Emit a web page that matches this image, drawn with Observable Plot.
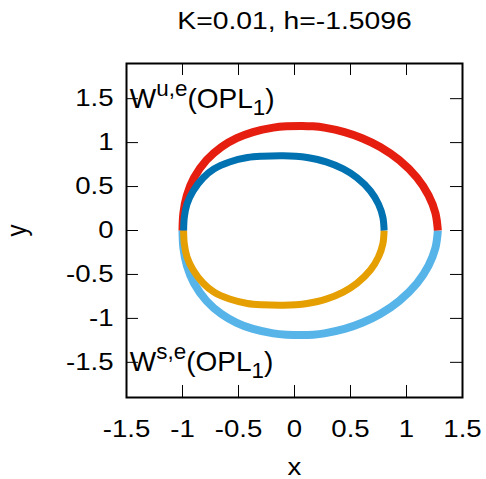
<!DOCTYPE html>
<html>
<head>
<meta charset="utf-8">
<script src="https://cdn.jsdelivr.net/npm/d3@7"></script>
<script src="https://cdn.jsdelivr.net/npm/@observablehq/plot@0.6"></script>
<style>
  html, body { margin: 0; padding: 0; background: #fff; }
  svg { overflow: visible; }
</style>
</head>
<body>
<div id="chart"></div>
<script>
// ---- text ----
const titleText = "K=0.01, h=-1.5096";
const xLabel = "x";
const yLabel = "y";

// ---- ticks ----
const xTicks = [-1.5, -1, -0.5, 0, 0.5, 1, 1.5];
const xTickLabels = ["-1.5", "-1", "-0.5", "0", "0.5", "1", "1.5"];
const yTicks = [-1.5, -1, -0.5, 0, 0.5, 1, 1.5];
const yTickLabels = ["-1.5", "-1", "-0.5", "0", "0.5", "1", "1.5"];

// ---- curve annotations: W^{sup}(OPL_sub) ----
const annX = [-1.47, -1.47];
const annY = [1.5, -1.5];
const annBase = ["W", "W"];
const annSup = ["u,e", "s,e"];
const annMid = ["(OPL", "(OPL"];
const annSub = ["1", "1"];
const annEnd = [")", ")"];

// ---- series ----
// W^{u,e}, outer branch (upper half, red)
const wuOuterX = [-1.00, -0.992, -0.961, -0.897, -0.786, -0.652, -0.516, -0.371, -0.189, -0.072, 0.07, 0.165, 0.267, 0.447, 0.604, 0.765, 0.936, 1.094, 1.197, 1.258, 1.28];
const wuOuterY = [0.00, 0.20, 0.40, 0.60, 0.80, 0.95, 1.05, 1.12, 1.17, 1.185, 1.19, 1.185, 1.17, 1.12, 1.05, 0.95, 0.80, 0.60, 0.40, 0.20, 0.00];
// W^{u,e}, inner branch (upper half, dark blue)
const wuInnerX = [-0.99, -0.984, -0.960, -0.905, -0.815, -0.72, -0.58, -0.42, -0.29, -0.10, 0.011, 0.113, 0.282, 0.435, 0.558, 0.678, 0.75, 0.789, 0.80];
const wuInnerY = [0.00, 0.15, 0.30, 0.45, 0.60, 0.70, 0.78, 0.83, 0.845, 0.85, 0.845, 0.83, 0.78, 0.70, 0.60, 0.45, 0.30, 0.15, 0.00];
// W^{s,e}, outer branch (lower half, light blue)
const wsOuterX = [-1.00, -0.992, -0.961, -0.897, -0.786, -0.652, -0.516, -0.371, -0.189, -0.072, 0.07, 0.165, 0.267, 0.447, 0.604, 0.765, 0.936, 1.094, 1.197, 1.258, 1.28];
const wsOuterY = [0.00, -0.20, -0.40, -0.60, -0.80, -0.95, -1.05, -1.12, -1.17, -1.185, -1.19, -1.185, -1.17, -1.12, -1.05, -0.95, -0.80, -0.60, -0.40, -0.20, 0.00];
// W^{s,e}, inner branch (lower half, orange)
const wsInnerX = [-0.99, -0.984, -0.960, -0.905, -0.815, -0.72, -0.58, -0.42, -0.29, -0.10, 0.011, 0.113, 0.282, 0.435, 0.558, 0.678, 0.75, 0.789, 0.80];
const wsInnerY = [0.00, -0.15, -0.30, -0.45, -0.60, -0.70, -0.78, -0.83, -0.845, -0.85, -0.845, -0.83, -0.78, -0.70, -0.60, -0.45, -0.30, -0.15, 0.00];

const toRows = (xs, ys) => xs.map((x, i) => ({x, y: ys[i]}));
const wuOuter = toRows(wuOuterX, wuOuterY);
const wuInner = toRows(wuInnerX, wuInnerY);
const wsOuter = toRows(wsOuterX, wsOuterY);
const wsInner = toRows(wsInnerX, wsInnerY);
const annotations = annX.map((x, i) => ({x, y: annY[i], i}));
const annString = i => annBase[i] + annSup[i] + annMid[i] + annSub[i] + annEnd[i];

// ---- layout ----
const W = 486, H = 479;
const mL = 126, mR = 24, mT = 63, mB = 82;
const plotW = W - mL - mR, plotH = H - mT - mB;
const tickLen = 12;
const font = "'Liberation Sans', Arial, Helvetica, sans-serif";

const lineOpts = (stroke, sw) => ({x: "x", y: "y", stroke, strokeWidth: sw, curve: "catmull-rom", strokeLinecap: "butt", strokeLinejoin: "round"});

const chart = Plot.plot({
  width: W, height: H,
  marginLeft: mL, marginRight: mR, marginTop: mT, marginBottom: mB,
  x: {domain: [-1.5, 1.5]},
  y: {domain: [-1.9, 1.9]},
  style: {fontFamily: font, fontSize: "24px", background: "#fff", color: "#000"},
  marks: [
    Plot.line(wsOuter, lineOpts("#56b4e9", 8)),
    Plot.line(wuOuter, lineOpts("#e51e10", 8)),
    Plot.line(wsInner, lineOpts("#e69f00", 7)),
    Plot.line(wuInner, lineOpts("#0072b2", 7)),
    // inward ticks on all four sides
    Plot.tickX(xTicks, {x: d => d, insetTop: plotH - tickLen, stroke: "#000", strokeWidth: 1}),
    Plot.tickX(xTicks, {x: d => d, insetBottom: plotH - tickLen, stroke: "#000", strokeWidth: 1}),
    Plot.tickY(yTicks, {y: d => d, insetRight: plotW - tickLen, stroke: "#000", strokeWidth: 1}),
    Plot.tickY(yTicks, {y: d => d, insetLeft: plotW - tickLen, stroke: "#000", strokeWidth: 1}),
    Plot.axisX(xTicks, {anchor: "bottom", tickSize: 0, tickPadding: 22, fontSize: 24,
      tickFormat: d => xTickLabels[xTicks.indexOf(d)], label: null}),
    Plot.axisY(yTicks, {anchor: "left", tickSize: 0, tickPadding: 13, fontSize: 24,
      tickFormat: d => yTickLabels[yTicks.indexOf(d)], label: null}),
    Plot.frame({stroke: "#000", strokeWidth: 2}),
    Plot.text([titleText], {frameAnchor: "top", dy: -42, textAnchor: "middle", lineAnchor: "middle", fontSize: 24, fill: "#000"}),
    Plot.text([xLabel], {frameAnchor: "bottom", dy: 70, textAnchor: "middle", lineAnchor: "middle", fontSize: 24, fill: "#000"}),
    Plot.text([yLabel], {frameAnchor: "left", dx: -109, textAnchor: "middle", lineAnchor: "middle", rotate: -90, fontSize: 24, fill: "#000"}),
    Plot.text(annotations, {x: "x", y: "y", text: d => annString(d.i), textAnchor: "start", lineAnchor: "middle", fontSize: 28, fill: "#000"})
  ]
});

document.getElementById("chart").appendChild(chart);

// Rebuild annotation texts with superscript / subscript tspans
const annStrings = annotations.map(d => annString(d.i));
const annEls = [];
d3.select(chart).selectAll("text").each(function() {
  const k = annStrings.indexOf(this.textContent);
  if (k < 0) return;
  annEls.push(this);
  const t = d3.select(this);
  t.text(null);
  t.append("tspan").text(annBase[k]);
  t.append("tspan").attr("font-size", 22.4).attr("dy", -12).text(annSup[k]);
  t.append("tspan").attr("font-size", 28).attr("dy", 12).text(annMid[k]);
  t.append("tspan").attr("font-size", 22.4).attr("dy", 7).text(annSub[k]);
  t.append("tspan").attr("font-size", 28).attr("dy", -7).text(annEnd[k]);
});

// Slightly widen the other texts, as in the reference rendering
const stretch = 1.15;
const titleStretch = 1.18;
d3.select(chart).selectAll("text").each(function() {
  if (annEls.includes(this)) return;
  const el = this;
  let tr = el.getAttribute("transform") || "";
  const x = el.getAttribute("x");
  if (x != null && isFinite(+x)) {
    tr += ` translate(${+x},0)`;
    el.removeAttribute("x");
  }
  const s = this.textContent === titleText ? titleStretch : stretch;
  const rotated = /rotate/.test(tr);
  tr += rotated ? ` scale(1,${s})` : ` scale(${s},1)`;
  el.setAttribute("transform", tr.trim());
});
</script>
</body>
</html>
